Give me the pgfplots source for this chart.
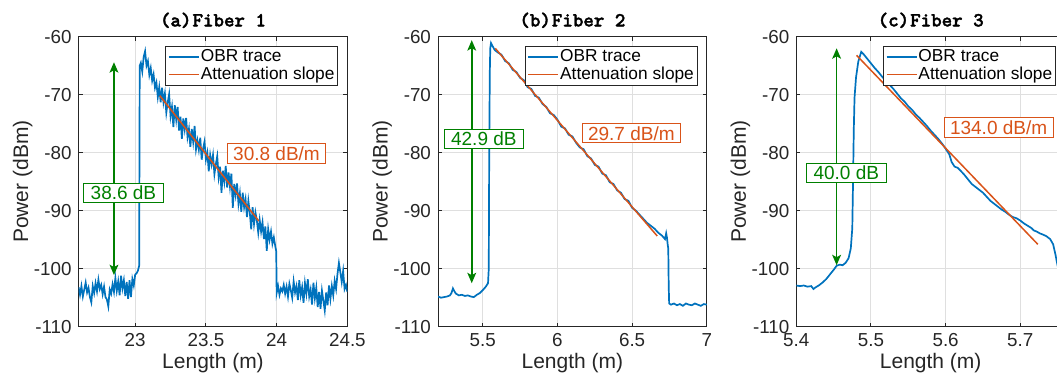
\documentclass[border=0pt]{standalone}
\usepackage{pgfplots}
\pgfplotsset{compat=1.18}
\usepackage{fontspec}
\setmainfont{Liberation Sans}
\newfontfamily\titlefont{Latin Modern Mono Light}[BoldFeatures={FakeBold=1.8}]
\usetikzlibrary{arrows.meta}
\definecolor{axcol}{RGB}{38,38,38}
\definecolor{gridcol}{RGB}{223,223,223}
\definecolor{mblue}{RGB}{0,114,189}
\definecolor{morange}{RGB}{217,83,25}
\definecolor{mgreen}{RGB}{0,128,0}
\tikzset{
  garrow/.style={mgreen, line width=0.8pt, {Stealth[length=5.2pt,width=4.4pt,inset=1.2pt]}-{Stealth[length=5.2pt,width=4.4pt,inset=1.2pt]}},
  gbox/.style={draw=mgreen, fill=white, text=mgreen, line width=0.5pt, font=\fontsize{9.5}{10}\selectfont, inner xsep=3.5pt, inner ysep=1.3pt},
  obox/.style={draw=morange, fill=white, text=morange, line width=0.5pt, font=\fontsize{9.5}{10}\selectfont, inner xsep=2.9pt, inner ysep=1.3pt},
}
\pgfplotsset{
  panel/.style={
    scale only axis, width=134.4pt, height=145pt,
    ymin=-110, ymax=-60, ytick={-110,-100,-90,-80,-70,-60},
    grid=major, major grid style={color=gridcol, line width=0.5pt},
    axis line style={color=axcol, line width=0.5pt},
    tick style={color=axcol, line width=0.5pt},
    tick align=inside, major tick length=2pt,
    ticklabel style={font=\fontsize{9.4}{10}\selectfont, color=axcol},
    /pgf/number format/assume math mode=true,
    label style={font=\fontsize{10.5}{11}\selectfont, color=axcol},
    xlabel={Length (m)}, ylabel={Power (dBm)},
    xlabel style={at={(axis description cs:0.5,0)}, anchor=center, yshift=-18.4pt},
    ylabel style={at={(axis description cs:-0.208,0.5)}, anchor=center},
    title style={at={(axis description cs:0.5,1)}, anchor=center, yshift=2.2pt, font=\titlefont\bfseries\fontsize{10}{11}\selectfont},
    legend style={at={(1,1)}, anchor=north east, xshift=-4.5pt, yshift=-4.5pt,
      draw=axcol, line width=0.5pt, fill=white, font=\fontsize{8.65}{9}\selectfont,
      inner xsep=1.2pt, inner ysep=0.3pt, row sep=-1.2pt, cells={anchor=west},
      nodes={inner xsep=0.5pt, inner ysep=1.2pt}},
    legend image code/.code={\draw[#1] (0pt,0pt) -- (15pt,0pt);},
    legend cell align=left,
  },
  trace/.style={color=mblue, line width=0.85pt},
  slope/.style={color=morange, line width=0.75pt},
}
\begin{document}
\begin{tikzpicture}
% ---------------- (a) Fiber 1 ----------------
\begin{axis}[panel, at={(39.3pt,23.65pt)}, anchor=south west,
  xmin=22.6, xmax=24.5, xtick={23,23.5,24,24.5},
  title={(a)\hspace{0.05em}Fiber 1}]
\addplot[trace] coordinates {
(22.60,-103.2) (22.61,-104.5) (22.62,-103.0) (22.63,-104.8) (22.64,-103.6) (22.65,-102.4) (22.66,-104.1) (22.67,-103.3) (22.68,-104.9) (22.69,-105.8)
(22.70,-103.0) (22.71,-104.2) (22.72,-102.5) (22.73,-103.9) (22.74,-101.9) (22.75,-103.5) (22.76,-102.8) (22.77,-104.4) (22.78,-103.1) (22.79,-104.9)
(22.80,-105.3) (22.81,-106.5) (22.82,-103.6) (22.83,-104.3) (22.84,-102.7) (22.85,-104.0) (22.86,-101.6) (22.87,-103.8) (22.88,-102.2) (22.89,-104.6)
(22.90,-101.2) (22.91,-103.4) (22.92,-102.0) (22.93,-104.7) (22.94,-102.3) (22.95,-105.2) (22.96,-102.0) (22.97,-104.9) (22.98,-101.8) (22.99,-102.9)
(23.00,-101.0) (23.01,-100.8) (23.02,-100.3) (23.028,-99.5) (23.032,-65.0)
(23.04,-64.5) (23.05,-66.0) (23.06,-63.5) (23.07,-62.5) (23.08,-65.0) (23.09,-64.2) (23.10,-66.6) (23.11,-65.4) (23.12,-67.6) (23.13,-66.5)
(23.14,-68.8) (23.15,-67.9) (23.16,-70.4) (23.17,-68.7) (23.18,-71.3) (23.19,-68.8) (23.20,-71.3) (23.21,-69.8) (23.22,-73.1) (23.23,-71.3)
(23.24,-69.9) (23.25,-73.7) (23.26,-72.1) (23.27,-75.6) (23.28,-71.8) (23.29,-74.3) (23.30,-72.1) (23.31,-76.2) (23.32,-73.8) (23.33,-77.6)
(23.34,-74.1) (23.35,-76.0) (23.36,-74.0) (23.37,-77.3) (23.38,-75.9) (23.39,-79.0) (23.40,-75.9) (23.41,-78.1) (23.42,-75.4) (23.43,-79.4)
(23.44,-77.9) (23.45,-79.5) (23.46,-77.4) (23.47,-81.2) (23.48,-79.3) (23.49,-78.1) (23.50,-81.2) (23.51,-80.0) (23.52,-83.2) (23.53,-80.4)
(23.54,-82.0) (23.55,-80.4) (23.56,-83.7) (23.57,-82.0) (23.58,-80.6) (23.59,-84.2) (23.60,-82.4) (23.61,-86.9) (23.62,-83.1) (23.63,-85.0)
(23.64,-82.3) (23.65,-86.0) (23.66,-83.4) (23.67,-85.9) (23.68,-83.6) (23.69,-89.5) (23.70,-85.4) (23.71,-87.3) (23.72,-85.3) (23.73,-88.8)
(23.74,-87.0) (23.75,-90.2) (23.76,-86.9) (23.77,-89.4) (23.78,-88.0) (23.79,-91.1) (23.80,-88.3) (23.81,-90.3) (23.82,-93.2) (23.83,-89.4)
(23.84,-92.3) (23.85,-90.3) (23.86,-91.7) (23.87,-93.8) (23.88,-91.6) (23.89,-93.6) (23.90,-92.0) (23.91,-94.9) (23.92,-92.7) (23.93,-96.9)
(23.94,-93.2) (23.95,-95.0) (23.96,-93.6) (23.97,-95.7) (23.98,-94.6) (23.99,-96.1) (23.997,-97.0)
(24.00,-104.2) (24.01,-103.0) (24.02,-104.5) (24.03,-103.4) (24.04,-103.9) (24.05,-102.8) (24.06,-104.3) (24.07,-103.1) (24.08,-104.8) (24.09,-102.6)
(24.10,-103.7) (24.11,-105.0) (24.12,-102.2) (24.13,-104.1) (24.14,-103.0) (24.15,-105.4) (24.16,-102.0) (24.17,-104.6) (24.18,-103.2) (24.19,-105.9)
(24.20,-102.5) (24.21,-104.3) (24.22,-101.8) (24.23,-104.8) (24.24,-103.6) (24.25,-106.2) (24.26,-102.4) (24.27,-105.1) (24.28,-103.3) (24.29,-106.6)
(24.30,-104.0) (24.31,-106.9) (24.32,-103.8) (24.33,-105.5) (24.34,-107.2) (24.35,-104.1) (24.36,-106.3) (24.37,-102.9) (24.38,-105.2) (24.39,-103.0)
(24.40,-104.6) (24.41,-102.1) (24.42,-103.5) (24.43,-100.9) (24.44,-99.0) (24.45,-100.6) (24.46,-102.3) (24.47,-100.4) (24.48,-103.5) (24.49,-102.8)
(24.50,-104.0)
};
\addlegendentry{OBR trace}
\addplot[slope] coordinates {(23.174,-70.17) (23.874,-91.78)};
\addlegendentry{Attenuation slope}
\draw[garrow] (axis cs:22.85,-64.4) -- (axis cs:22.85,-101.1);
\node[gbox] at (axis cs:22.917,-86.9) {38.6 dB};
\node[obox] at (axis cs:23.999,-80.14) {30.8 dB/m};
\end{axis}
% ---------------- (b) Fiber 2 ----------------
\begin{axis}[panel, at={(219pt,23.65pt)}, anchor=south west,
  xmin=5.2, xmax=7, xtick={5.5,6,6.5,7},
  title={(b)\hspace{0.05em}Fiber 2}]
\addplot[trace] coordinates {
(5.20,-104.8) (5.22,-105.0) (5.24,-104.9) (5.26,-104.8) (5.28,-104.6) (5.29,-104.2) (5.30,-103.4) (5.31,-103.9) (5.32,-104.3) (5.34,-104.6)
(5.36,-104.5) (5.38,-104.7) (5.40,-104.6) (5.42,-104.8) (5.44,-104.9) (5.46,-104.5) (5.48,-104.2) (5.50,-103.7) (5.52,-103.1) (5.535,-102.5)
(5.540,-100.0) (5.543,-80.0) (5.547,-66.0) (5.550,-62.0) (5.555,-61.1) (5.565,-61.6) (5.580,-62.3)
(5.600,-62.7) (5.625,-63.1) (5.650,-64.2) (5.675,-64.6) (5.700,-65.7) (5.725,-66.1) (5.750,-67.1) (5.775,-67.5) (5.800,-68.7) (5.825,-69.0)
(5.850,-70.2) (5.875,-70.5) (5.900,-71.6) (5.925,-72.1) (5.950,-73.2) (5.975,-73.5) (6.000,-74.3) (6.025,-75.5) (6.050,-75.8) (6.075,-76.9)
(6.100,-77.2) (6.125,-78.3) (6.150,-79.1) (6.175,-79.4) (6.200,-80.6) (6.225,-81.0) (6.250,-82.1) (6.275,-82.4) (6.300,-83.6) (6.325,-83.9)
(6.350,-85.1) (6.375,-85.4) (6.400,-86.5) (6.425,-86.9) (6.450,-88.0) (6.475,-88.3) (6.500,-89.5) (6.525,-90.0) (6.550,-90.7) (6.575,-91.4)
(6.600,-92.1) (6.625,-92.6) (6.650,-93.1) (6.675,-93.8) (6.700,-94.3) (6.720,-94.9) (6.728,-93.9) (6.733,-94.6) (6.738,-95.8) (6.742,-96.5)
(6.745,-103.0) (6.748,-106.0) (6.76,-106.2) (6.78,-106.0) (6.80,-106.3) (6.82,-106.1) (6.84,-106.4) (6.86,-106.0) (6.88,-106.2) (6.90,-106.3)
(6.92,-106.0) (6.94,-106.2) (6.96,-106.4) (6.98,-106.1) (7.00,-106.2)
};
\addlegendentry{OBR trace}
\addplot[slope] coordinates {(5.583,-62.0) (6.668,-94.36)};
\addlegendentry{Attenuation slope}
\draw[garrow] (axis cs:5.426,-60.6) -- (axis cs:5.426,-102.5);
\node[gbox] at (axis cs:5.507,-77.6) {42.9 dB};
\node[obox] at (axis cs:6.495,-76.66) {29.7 dB/m};
\end{axis}
% ---------------- (c) Fiber 3 ----------------
\begin{axis}[panel, at={(398.15pt,23.65pt)}, anchor=south west,
  xmin=5.4, xmax=5.76, xtick={5.4,5.5,5.6,5.7},
  title={(c)\hspace{0.05em}Fiber 3}]
\addplot[trace] coordinates {
(5.400,-102.9) (5.405,-103.0) (5.410,-102.9) (5.415,-103.1) (5.420,-103.0) (5.423,-103.5) (5.426,-103.2) (5.430,-102.9) (5.435,-102.4) (5.440,-101.8)
(5.445,-101.0) (5.450,-100.2) (5.454,-99.5) (5.458,-99.3) (5.462,-99.4) (5.466,-99.0) (5.470,-98.2) (5.473,-96.5) (5.475,-93.0) (5.476,-85.0)
(5.477,-76.0) (5.478,-70.5) (5.480,-67.0) (5.483,-64.3) (5.487,-62.6) (5.490,-63.0) (5.495,-63.8) (5.500,-64.6) (5.505,-65.4) (5.510,-66.1)
(5.515,-66.9) (5.520,-67.6) (5.525,-68.3) (5.530,-69.0) (5.535,-69.8) (5.540,-70.6) (5.545,-71.2) (5.550,-72.0) (5.555,-72.6) (5.560,-73.4)
(5.565,-74.0) (5.570,-74.7) (5.575,-75.4) (5.580,-76.2) (5.585,-76.9) (5.590,-77.6) (5.595,-78.4) (5.600,-79.3) (5.605,-80.3) (5.608,-81.6)
(5.612,-82.4) (5.616,-82.6) (5.620,-83.1) (5.625,-83.8) (5.630,-84.6) (5.635,-85.4) (5.640,-85.9) (5.645,-86.4) (5.650,-86.9) (5.655,-87.6)
(5.660,-88.3) (5.665,-88.8) (5.670,-89.3) (5.675,-89.8) (5.680,-90.2) (5.685,-90.7) (5.690,-91.1) (5.695,-91.3) (5.700,-91.7) (5.705,-92.2)
(5.710,-92.6) (5.715,-93.0) (5.718,-93.4) (5.722,-93.6) (5.726,-93.9) (5.730,-94.1) (5.735,-94.4) (5.740,-94.9) (5.744,-95.8) (5.747,-97.5)
(5.750,-99.5) (5.755,-101.5) (5.760,-102.5)
};
\addlegendentry{OBR trace}
\addplot[slope] coordinates {(5.4807,-63.2) (5.7235,-95.8)};
\addlegendentry{Attenuation slope}
\draw[garrow] (axis cs:5.454,-62.0) -- (axis cs:5.454,-99.4);
\node[gbox] at (axis cs:5.467,-83.5) {40.0 dB};
\node[obox] at (axis cs:5.671,-75.65) {134.0 dB/m};
\end{axis}
\pgfresetboundingbox
\path[use as bounding box] (0,0) rectangle (528.5pt,187pt);
\end{tikzpicture}
\end{document}
